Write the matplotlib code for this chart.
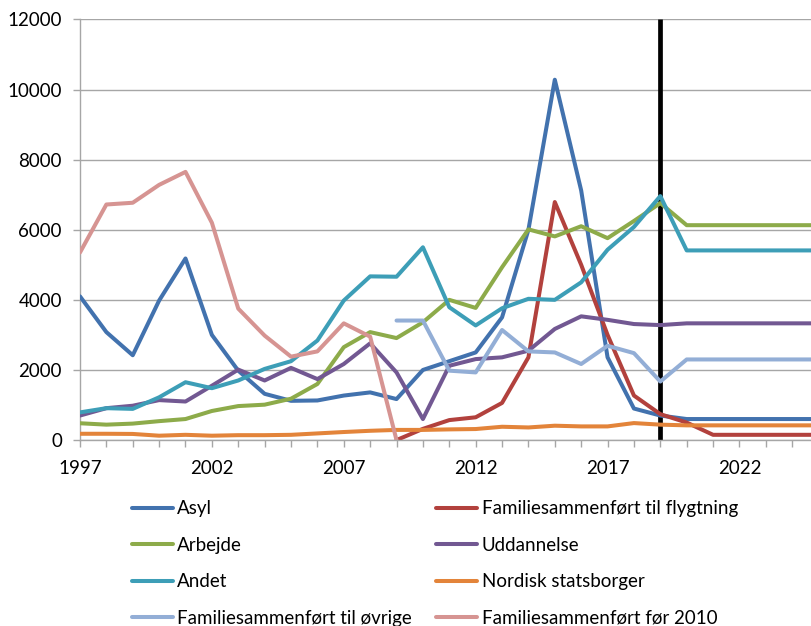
import matplotlib
matplotlib.use("Agg")
import matplotlib.pyplot as plt

plt.rcParams['font.family'] = ['Lato', 'DejaVu Sans']

years = list(range(1997, 2026))
future = 6  # 2020-2025 flat projection

asyl = [4100, 3080, 2420, 3980, 5180, 3000, 1980, 1320, 1120, 1130, 1270, 1360,
        1170, 2000, 2250, 2500, 3500, 6000, 10280, 7120, 2360, 900, 700] + [600] * future
flygtning = [None] * 12 + [0, 320, 570, 650, 1060, 2360, 6790, 5000, 3000, 1270, 740,
                           500, 150, 150, 150, 150, 150]
arbejde = [480, 440, 470, 540, 600, 830, 970, 1010, 1180, 1600, 2650, 3080,
           2910, 3360, 4000, 3770, 4930, 6010, 5810, 6100, 5760, 6250, 6760] + [6130] * future
uddannelse = [700, 910, 980, 1140, 1100, 1550, 2010, 1700, 2060, 1740, 2170, 2760,
              1930, 600, 2120, 2310, 2360, 2550, 3170, 3530, 3430, 3310, 3280] + [3330] * future
andet = [790, 910, 890, 1220, 1650, 1480, 1700, 2030, 2250, 2840, 3980, 4670,
         4660, 5500, 3790, 3270, 3760, 4030, 4000, 4500, 5430, 6080, 6960] + [5410] * future
nordisk = [180, 180, 175, 125, 150, 125, 140, 140, 150, 190, 230, 265,
           290, 290, 305, 315, 380, 360, 410, 390, 390, 485, 440] + [420] * future
oevrige = [None] * 12 + [3410, 3410, 1980, 1930, 3140, 2530, 2500, 2170, 2690, 2480,
                         1670, 2300, 2300, 2300, 2300, 2300, 2300]
foer2010 = [5350, 6720, 6770, 7280, 7650, 6200, 3750, 2980, 2380, 2530, 3330, 2950, 0] + [None] * 16

series = [
    ("Asyl", asyl, "#4272AE"),
    ("Familiesammenført til flygtning", flygtning, "#B2413D"),
    ("Arbejde", arbejde, "#8DAB4A"),
    ("Uddannelse", uddannelse, "#725892"),
    ("Andet", andet, "#3D9EB7"),
    ("Nordisk statsborger", nordisk, "#E3843A"),
    ("Familiesammenført til øvrige", oevrige, "#93AED6"),
    ("Familiesammenført før 2010", foer2010, "#D69492"),
]

fig = plt.figure(figsize=(8.12, 6.26), dpi=100)
ax = fig.add_axes([0.0985, 0.297, 0.9015, 0.672])

grid_c = "#A6A6A6"
ax.vlines(2019, 0, 12000, color="black", lw=3.4, zorder=2)

lines = {}
for name, vals, col in series:
    y = [float('nan') if v is None else v for v in vals]
    ln, = ax.plot(years, y, color=col, lw=2.9, label=name, zorder=3,
                  solid_joinstyle='round', solid_capstyle='round')
    lines[name] = ln

ax.set_xlim(1997, 2024.75)
ax.set_ylim(0, 12000)
ax.set_yticks(range(0, 12001, 2000))
ax.yaxis.grid(True, color=grid_c, lw=1)
ax.set_axisbelow(True)

xt = list(range(1997, 2025))
ax.set_xticks(xt)
ax.set_xticklabels([str(y) if (y - 1997) % 5 == 0 else "" for y in xt])

for s in ["top", "right"]:
    ax.spines[s].set_visible(False)
for s in ["left", "bottom"]:
    ax.spines[s].set_color(grid_c)
    ax.spines[s].set_linewidth(1)
ax.spines["bottom"].set_zorder(4)

ax.tick_params(axis="both", colors=grid_c, labelcolor="black", labelsize=13.5,
               length=5, width=1)
ax.tick_params(axis="x", pad=9)
ax.tick_params(axis="y", pad=8)

order = ["Asyl", "Arbejde", "Andet", "Familiesammenført til øvrige",
         "Familiesammenført til flygtning", "Uddannelse", "Nordisk statsborger",
         "Familiesammenført før 2010"]
fig.legend([lines[n] for n in order], order, ncol=2, loc="upper left",
           bbox_to_anchor=(0.1626, 0.201), frameon=False, fontsize=13.5,
           handlelength=2.2, handletextpad=0.22, columnspacing=1.28,
           labelspacing=1.04, borderaxespad=0, borderpad=0)

fig.savefig("out.png", dpi=100)
